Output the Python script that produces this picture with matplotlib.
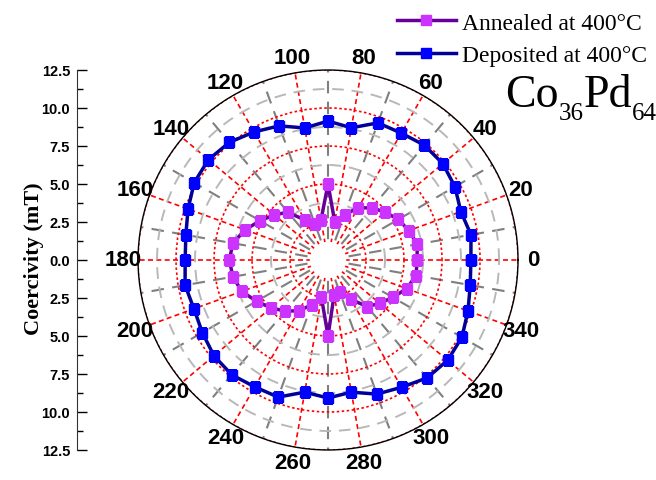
import numpy as np
import matplotlib
matplotlib.use("Agg")
import matplotlib.pyplot as plt
from matplotlib.ticker import FuncFormatter, MultipleLocator
from matplotlib.transforms import offset_copy

# angles in degrees, coercivity in mT
angulos = np.arange(0, 370, 10)
recocido = [5.86, 5.96, 5.66, 5.34, 4.90, 4.48, 3.96, 3.18, 2.54, 5.00,
            2.67, 2.50, 3.03, 4.10, 4.62, 5.16, 5.81, 6.35, 6.50, 6.35,
            6.04, 5.43, 4.90, 4.39, 3.86, 3.14, 2.50, 5.00, 2.32, 2.22,
            2.98, 4.00, 4.44, 4.92, 5.51, 5.88, 5.86]
depositado = [9.40, 9.55, 9.30, 9.64, 9.86, 9.86, 9.64, 9.60, 8.83, 9.14,
              8.82, 9.39, 9.73, 10.10, 10.27, 10.17, 9.80, 9.50, 9.40, 9.55,
              9.39, 9.55, 9.80, 9.86, 9.64, 9.60, 8.83, 9.08, 8.83, 9.39,
              9.67, 10.13, 10.27, 10.17, 9.80, 9.50, 9.40]
etiquetas = ["Annealed at 400°C", "Deposited at 400°C"]

fig = plt.figure(figsize=(6.56, 4.81), dpi=100)
ax = fig.add_axes([0.2104, 0.0624, 0.5793, 0.790], projection="polar")
ax.set_ylim(0, 12.5)

# grid: red majors, gray minors
ax.set_xticks(np.deg2rad(np.arange(0, 360, 20)))
ax.set_xticklabels([str(d) for d in range(0, 360, 20)],
                   fontsize=16, fontweight="bold", family="Liberation Sans")
ax.set_xticks(np.deg2rad(np.arange(10, 360, 20)), minor=True)
ax.set_yticks([2.5, 5, 7.5, 10, 12.5])
ax.set_yticks([3.75, 6.25, 8.75, 11.25], minor=True)
ax.set_yticklabels([])
ax.tick_params(axis="y", which="both", length=0)
ax.tick_params(axis="x", which="major", direction="in", length=6, width=1, pad=4)
ax.tick_params(axis="x", which="minor", direction="in", length=4, width=1)
ax.xaxis.grid(True, which="major", color="red", ls=(0, (3, 2)), lw=1.2)
ax.xaxis.grid(True, which="minor", color="#7f7f7f", ls=(0, (6, 4)), lw=1.5)
ax.yaxis.grid(True, which="major", color="red", ls=(0, (1.5, 1.5)), lw=1.2)
ax.yaxis.grid(True, which="minor", color="#b8b8b8", ls=(0, (6, 4)), lw=1.4)
ax.spines["polar"].set_linewidth(1)

# hueco blanco en el centro
t = np.linspace(0, 2 * np.pi, 200)
ax.fill(t, np.full_like(t, 1.2), color="white", zorder=1.8, lw=0)

th = np.deg2rad(angulos)
l1, = ax.plot(th, recocido, color="#660099", lw=2.5, marker="s", ms=6.5,
              mfc="#cc33ff", mec="#cc33ff", zorder=3, label=etiquetas[0])
l2, = ax.plot(th, depositado, color="#000099", lw=2.5, marker="s", ms=6.5,
              mfc="#0000ff", mec="#0000ff", zorder=3, label=etiquetas[1])

# eje lineal a la izquierda
lax = fig.add_axes([77 / 656, 0.0624, 0.0001, 0.790])
lax.set_ylim(-12.5, 12.5)
for s in ["top", "right", "bottom"]:
    lax.spines[s].set_visible(False)
lax.spines["left"].set_color("#333333")
lax.set_xticks([])
lax.yaxis.set_major_locator(MultipleLocator(2.5))
lax.yaxis.set_minor_locator(MultipleLocator(1.25))
lax.yaxis.set_major_formatter(FuncFormatter(lambda v, p: f"{abs(v):.1f}"))
lax.tick_params(axis="y", which="major", direction="in", length=7, width=1, pad=5)
lax.tick_params(axis="y", which="minor", direction="in", length=4, width=1)
for lb in lax.get_yticklabels():
    lb.set_fontweight("bold")
    lb.set_fontsize(10.5)
    lb.set_family("Liberation Sans")

fig.text(34 / 656, 0.462, "Coercivity (mT)", rotation=90, ha="center", va="center",
         fontsize=16, fontweight="bold", family="Liberation Serif")

fig.legend(handles=[l1, l2], loc="upper right", bbox_to_anchor=(1.018, 1.017),
           frameon=False, prop={"family": "Liberation Serif", "size": 17},
           handlelength=2.5, handletextpad=0.25, labelspacing=0.48)

# Co36Pd64 con subindices pequenos
partes = [("Co", 33, 0), ("36", 18, -13), ("Pd", 33, 0), ("64", 18, -13)]
rend = fig.canvas.get_renderer()
x0 = 505
for txt, tam, dy in partes:
    tr = offset_copy(fig.transFigure, fig=fig, x=0, y=dy, units="dots")
    tt = fig.text(x0 / 656, (481 - 107) / 481, txt, fontsize=tam,
                  family="Liberation Serif", va="baseline", ha="left", transform=tr)
    x0 += tt.get_window_extent(rend).width

fig.savefig("out.png", dpi=100)
